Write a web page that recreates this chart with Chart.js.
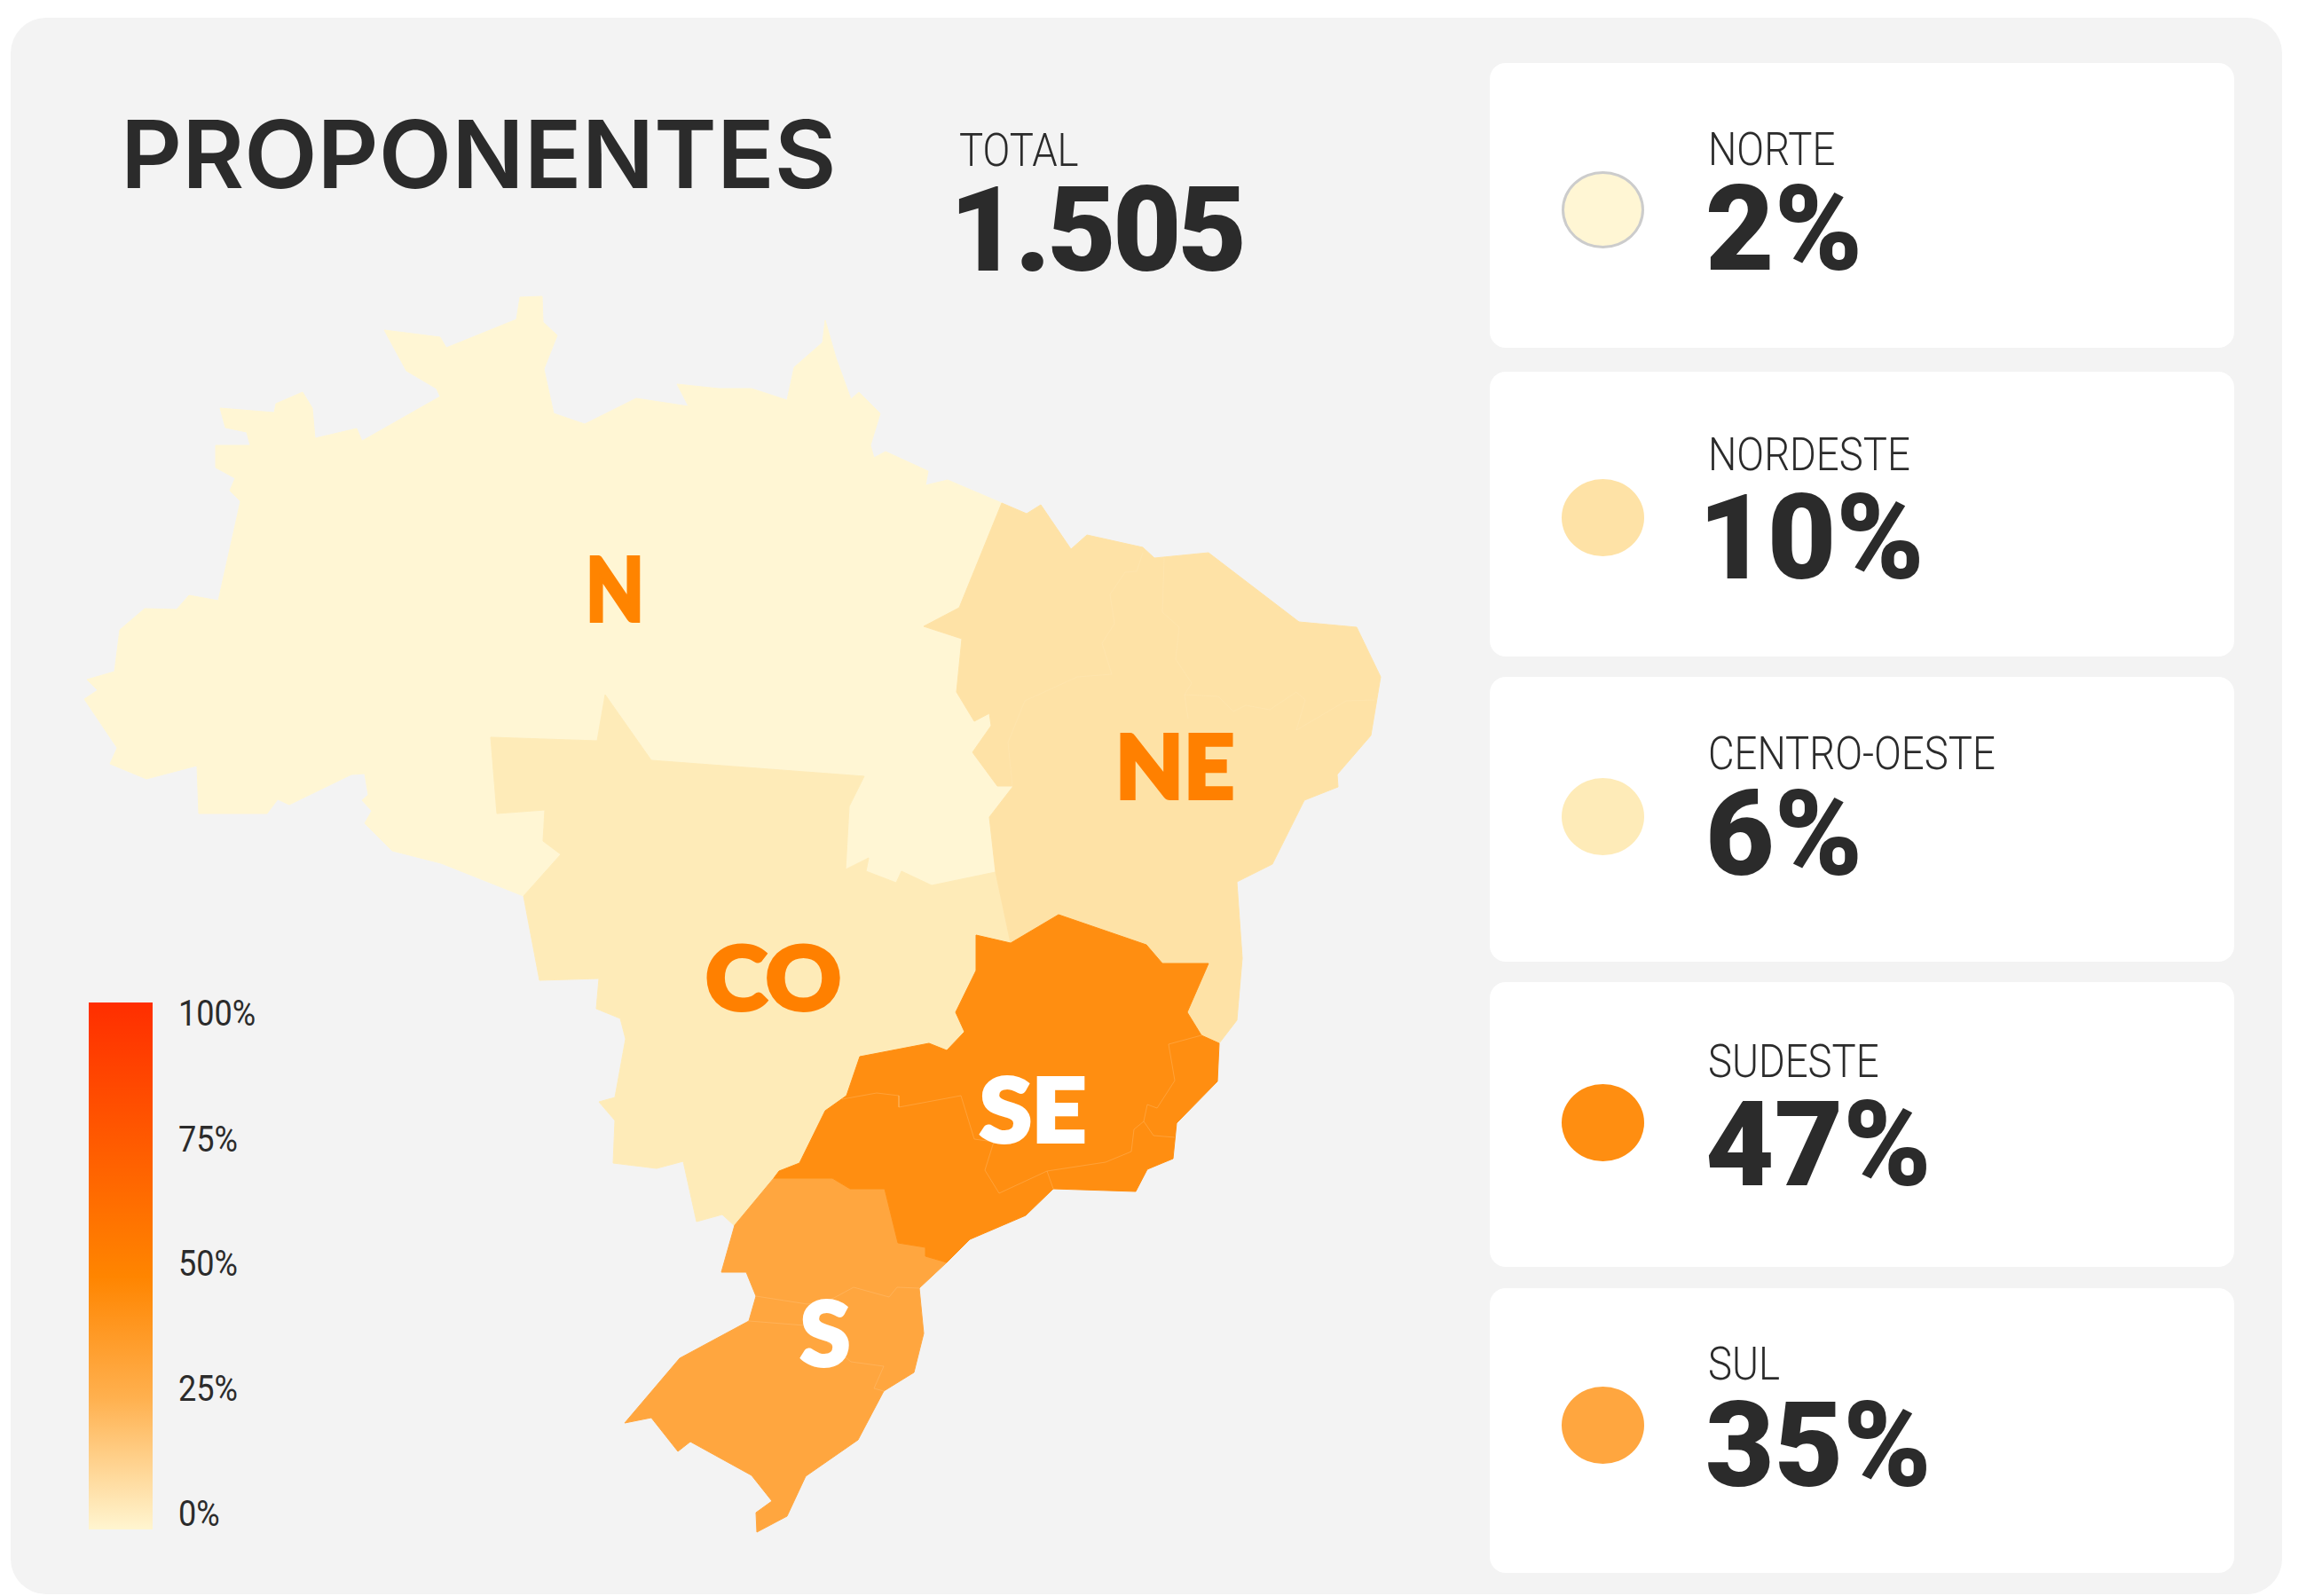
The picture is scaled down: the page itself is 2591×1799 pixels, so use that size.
<!DOCTYPE html>
<html lang="pt-BR">
<head>
<meta charset="utf-8">
<title>Proponentes</title>
<script src="https://cdn.jsdelivr.net/npm/chart.js@4"></script>
<style>
  html, body { margin: 0; padding: 0; background: #fff; }
  body { position: relative; width: 2591px; height: 1799px; overflow: hidden; color: #2b2b2b; font-family: Roboto, sans-serif; }
  #panel { position: absolute; left: 12px; top: 20px; width: 2560px; height: 1777px; background: #f3f3f3; border-radius: 40px; }
  #map { position: absolute; left: 0; top: 0; }
  .card { position: absolute; left: 1679px; width: 839px; height: 321px; background: #fff; border-radius: 18px; }
  .dot { position: absolute; left: 1760px; width: 93px; height: 87px; border-radius: 50%; box-sizing: border-box; }
  .txt { position: absolute; line-height: 1; white-space: nowrap; transform-origin: 0 0; }
  .light { font-weight: 300; font-size: 52px; transform: scaleX(0.875); }
  .big { font-weight: 900; font-size: 134px; letter-spacing: 0; }
  .tick { font-weight: 400; font-size: 41px; transform: scaleX(0.88); left: 201px; }
  #title { left: 136px; top: 121px; font-family: Inter, sans-serif; font-weight: 600; font-size: 106px; transform: scaleX(1.012); }
  #ramp { position: absolute; left: 100px; top: 1130px; width: 72px; height: 594px;
    background: linear-gradient(to top, #fff5d0 0%, #ffb04e 25%, #ff8500 48%, #ff2e00 100%); }
</style>
</head>
<body>
<div id="panel"></div>
<div id="ramp"></div>
<div id="title" class="txt">PROPONENTES</div>
<div id="overlay"></div>
<canvas id="map" width="2591" height="1799"></canvas>
<script>
const regionNames = ["NORTE", "NORDESTE", "CENTRO-OESTE", "SUDESTE", "SUL"];
const regionShares = [2, 10, 6, 47, 35];
const regionColors = ["#fff6d4", "#fee2a6", "#feebb8", "#ff8e11", "#ffa63f"];
const regionCodes = ["N", "NE", "CO", "SE", "S"];
const rampTicks = ["100%", "75%", "50%", "25%", "0%"];
const totalLabel = "TOTAL";
const totalValue = "1.505";

// outlines, in map units
const northOutline = [[95,788],[110,778],[98,766],[129,757],[135,710],[163,686],[199,687],[213,671],[246,677],[271,565],[259,553],[265,539],[243,527],[243,502],[282,502],[278,487],[254,482],[248,460],[309,465],[311,455],[341,442],[352,460],[355,494],[402,483],[408,497],[496,447],[492,438],[458,418],[433,372],[496,380],[503,392],[582,360],[586,335],[611,334],[612,363],[628,378],[613,416],[624,466],[659,478],[717,449],[776,458],[763,433],[810,438],[847,438],[887,451],[895,414],[927,386],[930,361],[942,403],[959,450],[968,442],[992,466],[981,502],[985,516],[998,509],[1046,531],[1043,547],[1068,541],[1129,567],[1081,685],[1041,706],[1084,720],[1078,780],[1098,813],[1115,804],[1117,818],[1096,848],[1124,886],[1142,886],[1115,921],[1122,983],[1050,998],[1016,982],[1010,995],[976,982],[979,967],[953,980],[957,909],[974,875],[734,857],[682,783],[673,835],[553,831],[560,917],[614,913],[612,948],[632,963],[590,1010],[497,973],[442,959],[411,928],[419,914],[408,902],[415,896],[411,872],[396,873],[326,907],[313,901],[301,917],[224,917],[222,863],[165,878],[124,861],[132,843],[95,788]];
const northeastOutline = [[1129,567],[1157,579],[1173,569],[1207,619],[1225,603],[1288,617],[1301,629],[1362,623],[1464,701],[1529,707],[1556,763],[1545,829],[1507,873],[1508,887],[1470,902],[1434,974],[1394,994],[1400,1080],[1394,1150],[1374,1176],[1354,1167],[1338,1141],[1362,1086],[1310,1086],[1292,1065],[1193,1031],[1139,1063],[1122,983],[1115,921],[1142,886],[1124,886],[1096,848],[1117,818],[1115,804],[1098,813],[1078,780],[1084,720],[1041,706],[1081,685],[1129,567]];
const centerWestOutline = [[553,831],[673,835],[682,783],[734,857],[974,875],[957,909],[953,980],[979,967],[976,982],[1010,995],[1016,982],[1050,998],[1122,983],[1139,1063],[1100,1054],[1100,1094],[1077,1141],[1087,1163],[1067,1184],[1047,1176],[969,1191],[954,1235],[930,1252],[901,1311],[878,1320],[828,1382],[814,1369],[785,1377],[770,1309],[740,1317],[691,1311],[693,1263],[675,1242],[693,1237],[705,1171],[699,1148],[672,1137],[675,1103],[608,1105],[590,1010],[632,963],[612,948],[614,913],[560,917],[553,831]];
const southeastOutline = [[1139,1063],[1193,1031],[1292,1065],[1310,1086],[1362,1086],[1338,1141],[1354,1167],[1374,1176],[1372,1219],[1326,1266],[1322,1306],[1293,1318],[1280,1343],[1187,1340],[1156,1370],[1093,1397],[1067,1423],[1043,1416],[1043,1406],[1012,1401],[997,1340],[958,1340],[938,1328],[872,1328],[878,1320],[901,1311],[930,1252],[954,1235],[969,1191],[1047,1176],[1067,1184],[1087,1163],[1077,1141],[1100,1094],[1100,1054],[1139,1063]];
const southOutline = [[872,1328],[938,1328],[958,1340],[997,1340],[1012,1401],[1043,1406],[1043,1416],[1067,1423],[1036,1452],[1041,1503],[1030,1547],[996,1568],[967,1623],[908,1664],[887,1709],[853,1727],[852,1705],[870,1692],[847,1663],[778,1625],[764,1636],[734,1598],[704,1604],[766,1531],[844,1489],[852,1461],[841,1434],[813,1434],[828,1381],[872,1328]];
const regionOutlines = [northOutline, northeastOutline, centerWestOutline, southeastOutline, southOutline];

// faint state borders inside the regions
const stateBorders = [
  [[949,1239],[988,1232],[1013,1235],[1013,1248],[1083,1235],[1098,1284],[1120,1287],[1110,1319],[1126,1345],[1180,1320],[1246,1310],[1275,1298],[1278,1273],[1289,1264],[1293,1245],[1304,1249],[1324,1218],[1317,1177],[1354,1167]],
  [[1180,1320],[1187,1340]],
  [[1289,1264],[1300,1280],[1324,1282]],
  [[852,1461],[910,1470],[938,1464],[962,1451],[1002,1462],[1011,1451],[1036,1452]],
  [[844,1489],[907,1494],[927,1508],[959,1535],[996,1540],[985,1565],[996,1568]]
];
const faintBorders = [
  [[1288,623],[1281,644],[1268,645],[1251,670],[1256,703],[1242,725],[1253,760],[1214,763],[1155,790],[1136,837],[1141,886]],
  [[1312,629],[1310,690],[1329,707],[1325,743],[1343,770],[1335,783],[1339,810]],
  [[1335,783],[1373,785],[1390,802],[1404,795],[1431,800],[1461,780],[1471,789],[1461,823],[1517,790],[1549,789]]
];

// where the region codes sit on the map, with their cap box
const codeBoxes = [
  { x: 660, y: 700, w: 66, h: 72, color: "#ff8400" },
  { x: 1257, y: 900, w: 134, h: 72, color: "#ff8000" },
  { x: 795, y: 1138, w: 153, h: 72, color: "#ff8000" },
  { x: 1104, y: 1287, w: 120, h: 72, color: "#ffffff" },
  { x: 902, y: 1539, w: 56, h: 72, color: "#ffffff" }
];

const cardTops = [71, 419, 763, 1107, 1452];
const dotCenters = [236, 583, 920, 1265, 1606];
const labelTops = [143, 487, 824, 1171, 1512];
const shareTops = [192, 540, 874, 1224, 1563];
const shareLefts = [1922, 1914, 1922, 1922, 1922];
const tickTops = [1122, 1264, 1404, 1545, 1686];

function toPoints(outline) {
  return outline.map(([x, y]) => ({ x, y }));
}

function addText(text, className, left, top) {
  const el = document.createElement("div");
  el.className = "txt " + className;
  el.textContent = text;
  if (left !== null) el.style.left = left + "px";
  el.style.top = top + "px";
  document.getElementById("overlay").appendChild(el);
  return el;
}

function buildCards() {
  const overlay = document.getElementById("overlay");
  regionNames.forEach((name, i) => {
    const card = document.createElement("div");
    card.className = "card";
    card.style.top = cardTops[i] + "px";
    overlay.appendChild(card);
    const dot = document.createElement("div");
    dot.className = "dot";
    dot.style.top = dotCenters[i] - 43 + "px";
    dot.style.background = regionColors[i];
    if (i === 0) dot.style.border = "3px solid #cccccc";
    overlay.appendChild(dot);
    addText(name, "light", 1925, labelTops[i]);
    addText(regionShares[i] + "%", "big", shareLefts[i], shareTops[i]);
  });
  addText(totalLabel, "light", 1081, 144);
  addText(totalValue, "big", 1070, 193).style.letterSpacing = "-4px";
  rampTicks.forEach((t, i) => addText(t, "tick", null, tickTops[i]));
}

const codePlugin = {
  id: "regionCodes",
  afterDatasetsDraw(chart) {
    const { ctx, scales } = chart;
    regionCodes.forEach((code, i) => {
      const box = codeBoxes[i];
      ctx.save();
      ctx.font = "900 " + Math.round(box.h / 0.72) + "px Lato, sans-serif";
      ctx.fillStyle = box.color;
      ctx.strokeStyle = box.color;
      ctx.lineWidth = 4; // the reference letters are heavier than Lato bold
      ctx.lineJoin = "miter";
      ctx.textBaseline = "alphabetic";
      const width = ctx.measureText(code).width;
      ctx.translate(scales.x.getPixelForValue(box.x), scales.y.getPixelForValue(box.y));
      ctx.scale(box.w / width, 1);
      ctx.fillText(code, 0, 0);
      ctx.strokeText(code, 0, 0);
      ctx.restore();
    });
  }
};

function setupMap() {
  const paintOrder = [0, 2, 1, 4, 3];
  const datasets = regionOutlines.map((outline, i) => ({
    label: regionNames[i],
    data: toPoints(outline),
    showLine: true,
    fill: "shape",
    backgroundColor: regionColors[i],
    borderColor: regionColors[i],
    borderWidth: 1,
    pointRadius: 0,
    order: 20 - paintOrder.indexOf(i)
  }));
  stateBorders.forEach((line) => datasets.push({
    data: toPoints(line), showLine: true, fill: false, pointRadius: 0,
    borderColor: "rgba(255,205,145,0.45)", borderWidth: 0.7, order: 1
  }));
  faintBorders.forEach((line) => datasets.push({
    data: toPoints(line), showLine: true, fill: false, pointRadius: 0,
    borderColor: "rgba(255,240,205,0.3)", borderWidth: 0.6, order: 1
  }));
  new Chart(document.getElementById("map"), {
    type: "scatter",
    data: { datasets },
    options: {
      responsive: false,
      animation: false,
      devicePixelRatio: 1,
      layout: { padding: 0 },
      plugins: { legend: { display: false }, tooltip: { enabled: false } },
      scales: {
        x: { type: "linear", min: 0, max: 2591, display: false },
        y: { type: "linear", min: 0, max: 1799, reverse: true, display: false }
      }
    },
    plugins: [codePlugin]
  });
}

buildCards();
setupMap();
</script>
</body>
</html>
